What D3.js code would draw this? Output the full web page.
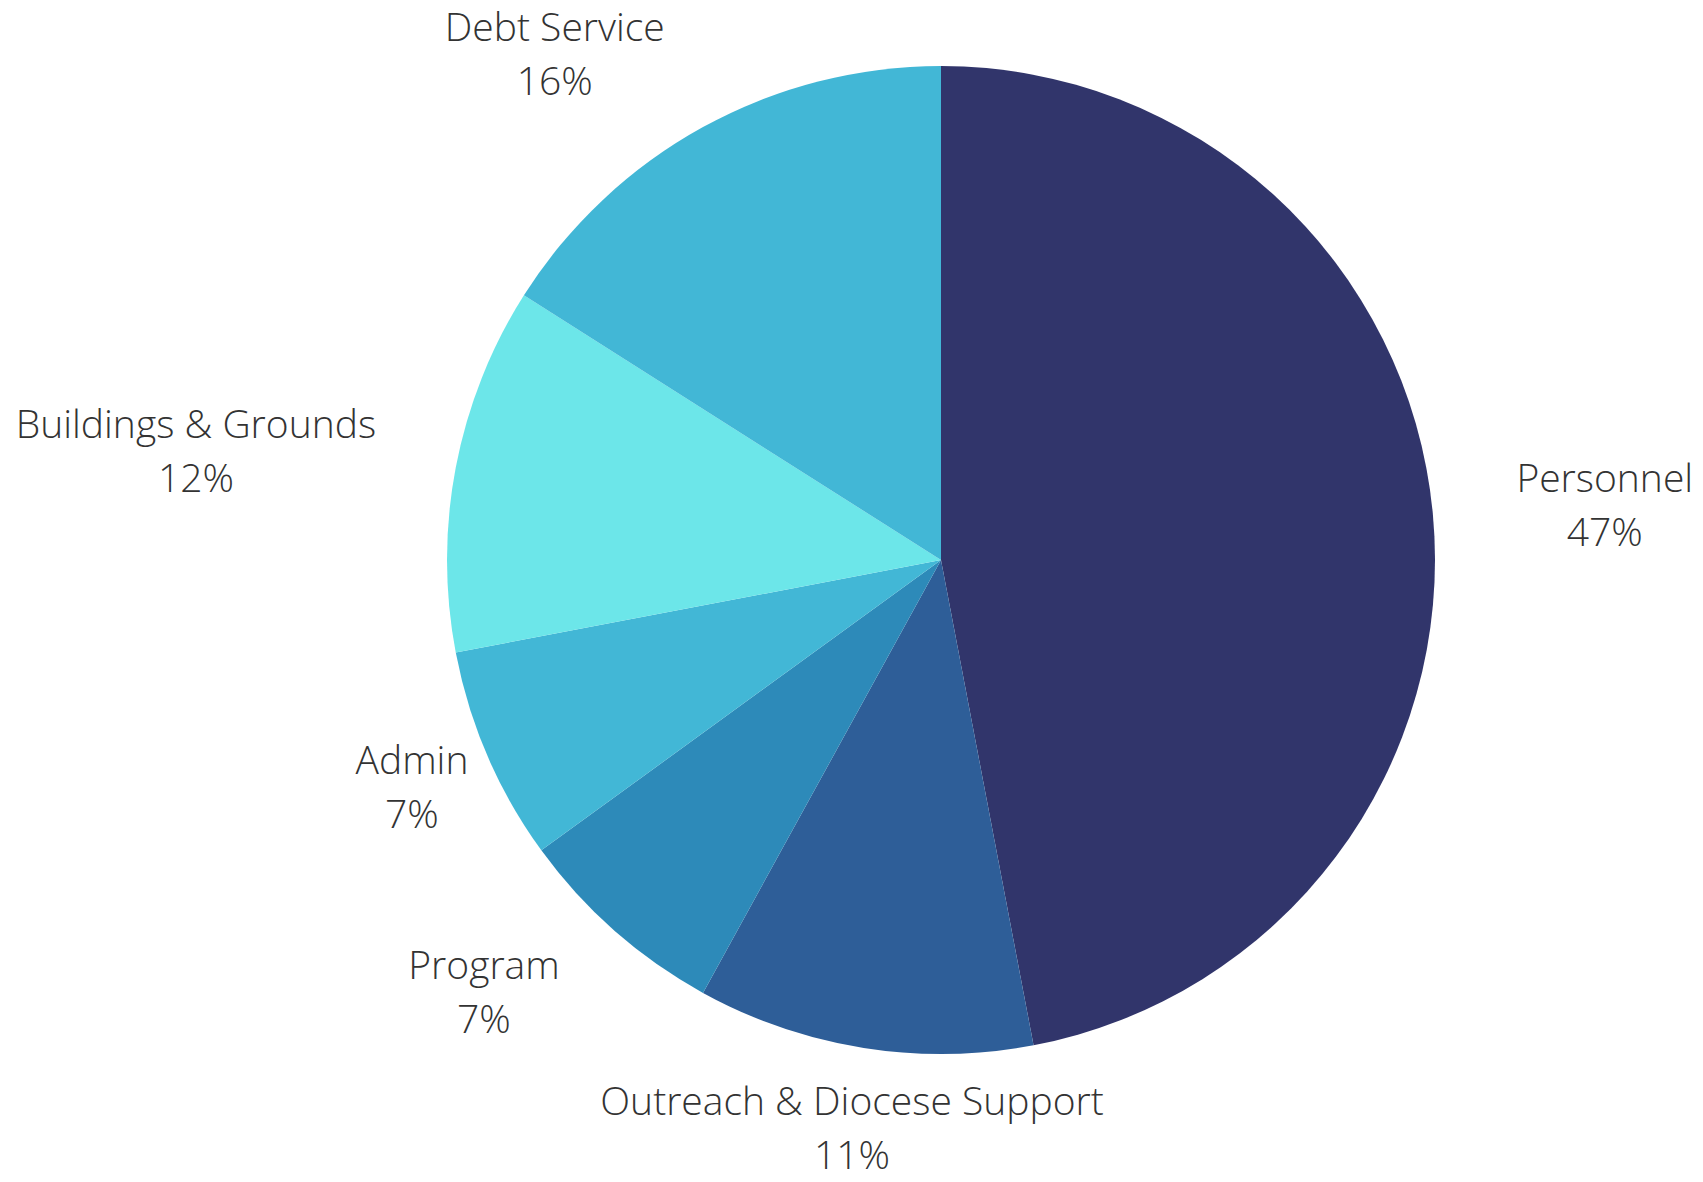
<!DOCTYPE html>
<html lang="en">
<head>
    <meta charset="utf-8">
    <title>Budget pie</title>
    <script type="text/javascript" src="https://d3js.org/d3.v7.min.js"></script>
    <style>
        body { margin: 0; background: #fff; }
        .label { font-family: "Open Sans", sans-serif; font-weight: 300; font-size: 39px; fill: #333; }
    </style>
</head>
<body>
    <div id="pie-chart"></div>
    <script type="text/javascript">
        // data, clockwise from 12 o'clock
        const categories = ["Personnel", "Outreach & Diocese Support", "Program", "Admin", "Buildings & Grounds", "Debt Service"];
        const shares = [47, 11, 7, 7, 12, 16];
        const sliceColors = ["#31356b", "#2e5e98", "#2d8ab9", "#42b7d6", "#6ce6e9", "#42b7d6"];

        // label placement: radius from centre and small angle nudge (degrees)
        const labelRadius = [666, 575, 629, 576, 753, 636];
        const labelNudge = [0.7, -0.1, 5.2, 0.1, -2.5, -8.6];

        const width = 1703;
        const height = 1182;
        const cx = 941;
        const cy = 560;
        const radius = 494;
        const lineGap = 54;

        const svg = d3.select("#pie-chart")
            .append("svg")
            .attr("width", width)
            .attr("height", height);

        const data = categories.map((c, i) => ({name: c, value: shares[i], i: i}));

        const pie = d3.pie().sort(null).value(d => d.value);
        const arcs = pie(data);
        const arc = d3.arc().innerRadius(0).outerRadius(radius);

        const g = svg.append("g")
            .attr("transform", "translate(" + cx + "," + cy + ")");

        g.selectAll("path")
            .data(arcs)
            .enter()
            .append("path")
                .attr("d", arc)
                .attr("fill", d => sliceColors[d.data.i]);

        // labels
        const toRad = Math.PI / 180;
        const labels = g.selectAll("text.label")
            .data(arcs)
            .enter()
            .append("text")
                .attr("class", "label")
                .attr("text-anchor", "middle")
                .attr("transform", function(d) {
                    const a = (d.startAngle + d.endAngle) / 2 + labelNudge[d.data.i] * toRad;
                    const r = labelRadius[d.data.i];
                    return "translate(" + (Math.sin(a) * r) + "," + (-Math.cos(a) * r) + ")";
                });

        labels.append("tspan")
            .attr("x", 0)
            .attr("y", -lineGap / 2)
            .attr("dy", "0.35em")
            .text(d => d.data.name);

        labels.append("tspan")
            .attr("x", 0)
            .attr("y", lineGap / 2)
            .attr("dy", "0.35em")
            .text(d => d.data.value + "%");
    </script>
</body>
</html>
